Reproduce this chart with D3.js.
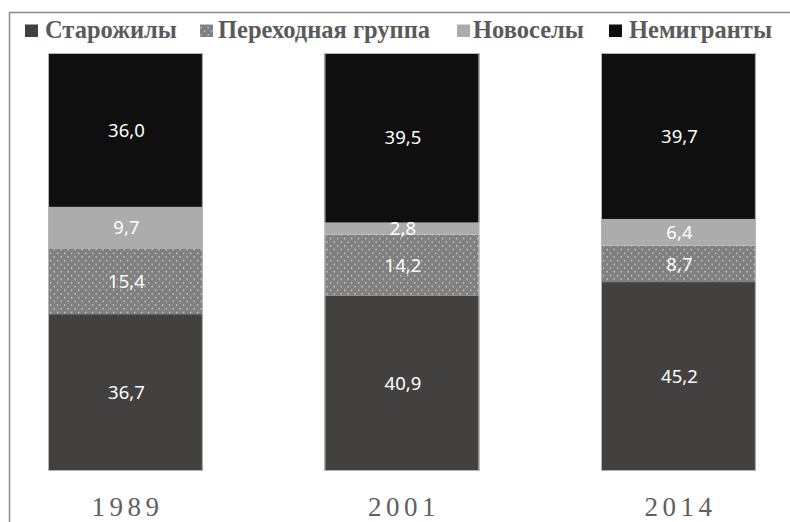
<!DOCTYPE html>
<html>
<head>
<meta charset="utf-8">
<script src="https://cdn.jsdelivr.net/npm/d3@7"></script>
<style>
  html, body { margin: 0; padding: 0; background: #fff; }
  svg { display: block; }
</style>
</head>
<body>
<svg id="chart" width="790" height="522"></svg>
<script>
// ---- data ----
const years = ["1989", "2001", "2014"];
const seriesNames = ["Старожилы", "Переходная группа", "Новоселы", "Немигранты"];
const starozhily = [36.7, 40.9, 45.2];
const perekhodnaya = [15.4, 14.2, 8.7];
const novosely = [9.7, 2.8, 6.4];
const nemigranty = [36.0, 39.5, 39.7];

const table = years.map((y, i) => ({
  year: y,
  "Старожилы": starozhily[i],
  "Переходная группа": perekhodnaya[i],
  "Новоселы": novosely[i],
  "Немигранты": nemigranty[i]
}));

const svg = d3.select("#chart");
const W = 790, H = 522;

// pattern for transitional group
const defs = svg.append("defs");
const pat = defs.append("pattern")
  .attr("id", "dots").attr("patternUnits", "userSpaceOnUse")
  .attr("width", 7).attr("height", 7.4);
pat.append("rect").attr("width", 7).attr("height", 7.4).attr("fill", "#808080");
pat.append("rect").attr("x", 1).attr("y", 1).attr("width", 1.3).attr("height", 1.3).attr("fill", "#dcdcdc");
pat.append("rect").attr("x", 4.5).attr("y", 4.7).attr("width", 1.3).attr("height", 1.3).attr("fill", "#dcdcdc");

const fills = {
  "Старожилы": "#434140",
  "Переходная группа": "url(#dots)",
  "Новоселы": "#acacac",
  "Немигранты": "#0f0f0f"
};

// frame (left + top edges visible, rest cropped)
svg.append("path")
  .attr("d", `M9.5,${H + 5} V12.5 H${W + 5}`)
  .attr("fill", "none").attr("stroke", "#8a8a8a").attr("stroke-width", 1.5);

// scales
const step = 276.5;
const pIn = 0.44, pOut = 0.22;
const x0 = 48 - pOut * step;
const x = d3.scaleBand().domain(years)
  .range([x0, x0 + step * (years.length - pIn + 2 * pOut)])
  .paddingInner(pIn).paddingOuter(pOut);
const y = d3.scaleLinear().domain([0, 1]).range([471, 53]);

const stack = d3.stack().keys(seriesNames).offset(d3.stackOffsetExpand);
const layers = stack(table);

const fmt = v => d3.format(".1f")(v).replace(".", ",");

const g = svg.append("g");
layers.forEach(layer => {
  const key = layer.key;
  g.selectAll(null).data(layer).join("rect")
    .attr("x", d => x(d.data.year))
    .attr("width", x.bandwidth())
    .attr("y", d => y(d[1]))
    .attr("height", d => y(d[0]) - y(d[1]))
    .attr("fill", fills[key]);
});

// faint bar outline
g.selectAll(null).data(table).join("rect")
  .attr("x", d => x(d.year) + 0.5)
  .attr("width", x.bandwidth() - 1)
  .attr("y", y(1) + 0.5)
  .attr("height", y(0) - y(1) - 1)
  .attr("fill", "none").attr("stroke", "#b5b5b5").attr("stroke-width", 1);

// data labels
layers.forEach(layer => {
  g.selectAll(null).data(layer).join("text")
    .attr("x", d => x(d.data.year) + x.bandwidth() / 2 + 1)
    .attr("y", d => (y(d[0]) + y(d[1])) / 2)
    .attr("dy", "0.36em")
    .attr("text-anchor", "middle")
    .attr("font-family", "'Noto Sans', 'Open Sans', sans-serif")
    .attr("font-size", 18.5)
    .attr("fill", "#ffffff")
    .text(d => fmt(d.data[layer.key]));
});

// x axis labels (years)
const xAxis = d3.axisBottom(x).tickSize(0).tickPadding(0);
const ax = svg.append("g").attr("transform", "translate(0,471)").call(xAxis);
ax.select(".domain").remove();
ax.selectAll("text")
  .attr("y", 45)
  .attr("dy", 0)
  .attr("font-family", "'Liberation Serif', 'DejaVu Serif', serif")
  .attr("font-size", 27)
  .attr("letter-spacing", "4.5px")
  .attr("fill", "#606060")
  .attr("dx", 2);

// legend
const legendPos = [
  { mx: 25, tx: 45 },
  { mx: 200, tx: 218 },
  { mx: 457, tx: 473 },
  { mx: 609, tx: 629 }
];
const lg = svg.append("g");
seriesNames.forEach((name, i) => {
  const p = legendPos[i];
  lg.append("rect")
    .attr("x", p.mx).attr("y", 24.5)
    .attr("width", 13).attr("height", 12.5)
    .attr("fill", fills[name]);
  lg.append("text")
    .attr("x", p.tx).attr("y", 37.5)
    .attr("font-family", "'Liberation Serif', 'DejaVu Serif', serif")
    .attr("font-weight", "bold")
    .attr("font-size", 24.5)
    .attr("fill", "#5a5a5a")
    .text(name);
});
</script>
</body>
</html>
